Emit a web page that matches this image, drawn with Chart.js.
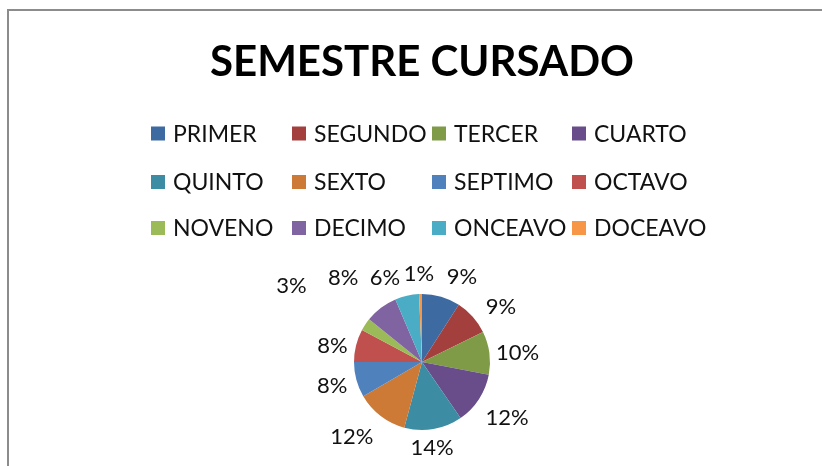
<!DOCTYPE html>
<html>
<head>
<meta charset="utf-8">
<script src="https://cdn.jsdelivr.net/npm/chart.js@4/dist/chart.umd.min.js"></script>
<style>
  html, body { margin: 0; padding: 0; background: #ffffff; overflow: hidden; width: 822px; height: 466px; }
  #wrap { position: absolute; left: 7px; top: 9px; width: 826px; height: 470px;
          border-top: 2px solid #8c8c8c; border-left: 2px solid #8c8c8c; background: #fff; }
  canvas { display: block; }
</style>
</head>
<body>
<div id="wrap"><canvas id="c" width="826" height="455"></canvas></div>
<script>
// ---- data ----
const titleText = 'SEMESTRE CURSADO';
const categories = ['PRIMER', 'SEGUNDO', 'TERCER', 'CUARTO', 'QUINTO', 'SEXTO',
                    'SEPTIMO', 'OCTAVO', 'NOVENO', 'DECIMO', 'ONCEAVO', 'DOCEAVO'];
const shares = [9.1, 8.6, 10.3, 12.4, 13.8, 12.4, 8.4, 7.8, 3.0, 7.8, 5.7, 0.7];
const sliceColors = ['#3D6BA1', '#A3403D', '#7F9B48', '#684D8A', '#3C8DA4', '#CC7A36',
                     '#4F81BD', '#C0504D', '#9BBB59', '#8064A2', '#4BACC6', '#F79646'];

// ---- label placement (Excel "best fit" style nudges: degrees, px beyond radius) ----
const labelNudge = [[8.8, 26], [7, 28], [2.3, 28], [0.3, 34], [3, 18], [5.6, 35],
                    [0.1, 25], [-4, 23], [-3.3, 83], [-6.1, 47], [-11, 24], [-0.7, 20]];

const pctLabels = {
  id: 'pctLabels',
  afterDatasetsDraw(chart) {
    const ctx = chart.ctx;
    const meta = chart.getDatasetMeta(0);
    const data = chart.data.datasets[0].data;
    const total = data.reduce((a, b) => a + b, 0);
    ctx.save();
    ctx.font = '22px Lato';
    ctx.fillStyle = '#111111';
    ctx.textAlign = 'center';
    ctx.textBaseline = 'middle';
    meta.data.forEach((arc, i) => {
      const p = arc.getProps(['x', 'y', 'startAngle', 'endAngle', 'outerRadius'], true);
      const mid = (p.startAngle + p.endAngle) / 2 + labelNudge[i][0] * Math.PI / 180;
      const d = p.outerRadius + labelNudge[i][1];
      const txt = Math.round(data[i] / total * 100) + '%';
      ctx.fillText(txt, p.x + Math.cos(mid) * d, p.y + Math.sin(mid) * d);
    });
    ctx.restore();
  }
};

const gridLegend = {
  id: 'gridLegend',
  afterDraw(chart) {
    const ctx = chart.ctx;
    const labels = chart.data.labels;
    const colors = chart.data.datasets[0].backgroundColor;
    const colX = [142, 283, 423, 563];
    const rowY = [122.5, 171, 217];
    ctx.save();
    ctx.font = '23px Lato';
    ctx.textBaseline = 'middle';
    ctx.textAlign = 'left';
    labels.forEach((lab, i) => {
      const x = colX[i % 4], y = rowY[Math.floor(i / 4)];
      ctx.fillStyle = colors[i];
      ctx.fillRect(x, y - 7, 14, 14);
      ctx.fillStyle = '#111111';
      ctx.fillText(lab, x + 22, y + 1);
    });
    ctx.restore();
  }
};

new Chart(document.getElementById('c'), {
  type: 'pie',
  data: {
    labels: categories,
    datasets: [{ data: shares, backgroundColor: sliceColors, borderWidth: 0, hoverOffset: 0 }]
  },
  options: {
    responsive: false,
    animation: false,
    devicePixelRatio: 1,
    layout: { padding: { top: 0, bottom: 36, left: 0, right: 0 } },
    plugins: {
      legend: { display: false },
      tooltip: { enabled: false },
      title: {
        display: true,
        text: titleText,
        color: '#000000',
        font: { family: 'Lato', size: 42, weight: 'bold', lineHeight: 1.2 },
        padding: { top: 26.6, bottom: 206 }
      }
    }
  },
  plugins: [pctLabels, gridLegend]
});
</script>
</body>
</html>
